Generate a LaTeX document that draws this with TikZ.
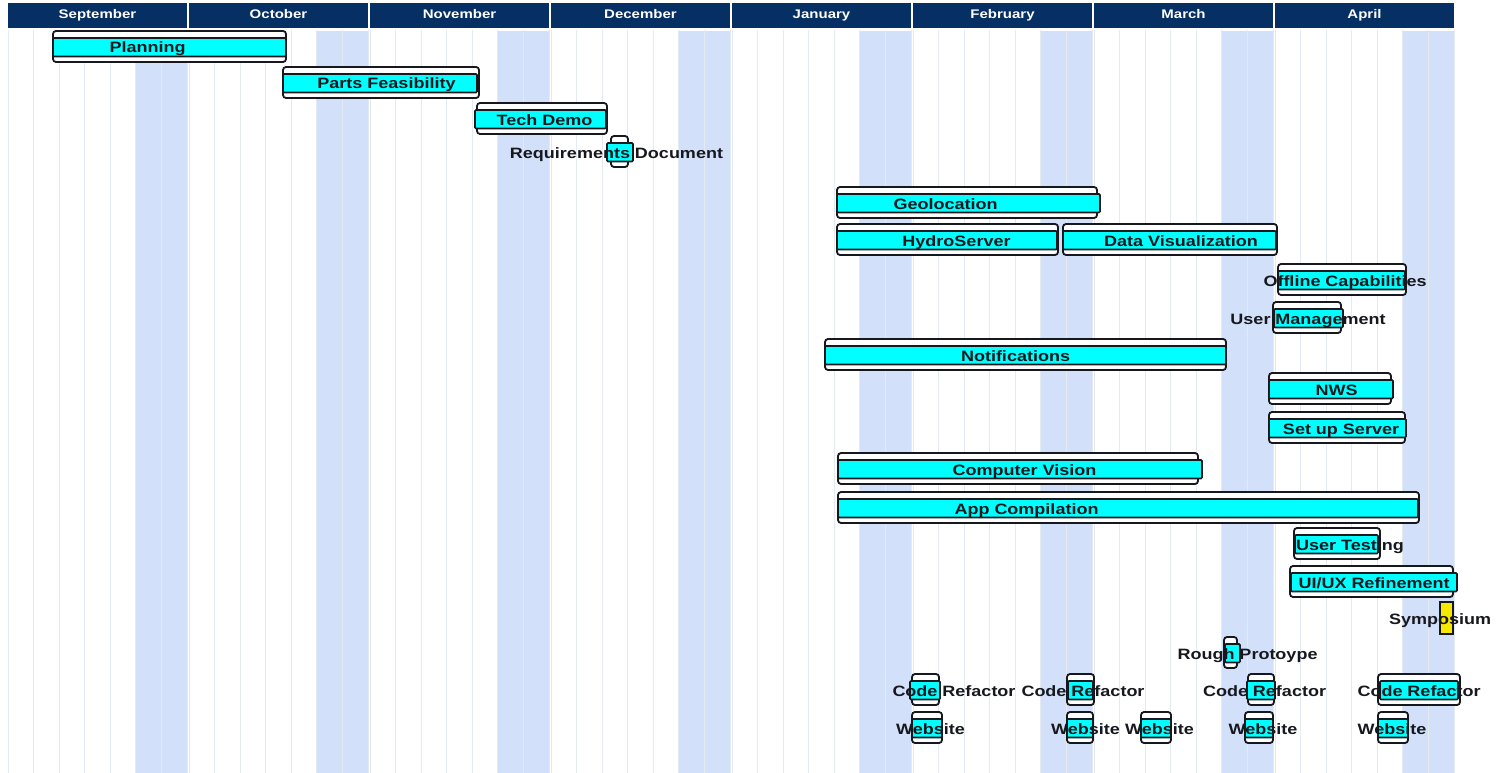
\documentclass[tikz,border=0pt]{standalone}
\usepackage{fontspec}
\usepackage{tikz}
\newfontfamily\chartfont[FakeStretch=1.2]{Liberation Sans}
\definecolor{navy}{RGB}{6,48,99}
\definecolor{wkndc}{RGB}{211,224,250}
\definecolor{gridc}{RGB}{228,234,242}
\definecolor{barc}{RGB}{0,255,255}
\definecolor{mile}{RGB}{246,232,0}
\definecolor{ink}{RGB}{22,24,30}
% one task: name, top, plan left/right, bar left/right, label x, label
\newcommand{\ganttrow}[8]{%
  \draw[planbox] (#3,#2) rectangle (#4,#2+31);
  \draw[actbar] (#5,#2+7) rectangle (#6,#2+25.5);
  \node[tasklbl] (#1) at (#7,#2+22) {#8};
}

\begin{document}
\begin{tikzpicture}[x=1pt,y=-1pt,
    planbox/.style={draw=ink,fill=white,line width=1.8pt,rounded corners=3pt},
    actbar/.style={draw=ink,fill=barc,line width=1.6pt,rounded corners=1pt},
    tasklbl/.style={inner sep=0pt,anchor=base,text=ink,
                    font=\chartfont\fontsize{15}{18}\selectfont\bfseries},
    monthlbl/.style={inner sep=0pt,anchor=base,text=white,
                     font=\chartfont\fontsize{12.5}{15}\selectfont\bfseries},
    gridln/.style={draw=gridc,line width=0.9pt},
  ]
  \fill[white] (0,0) rectangle (1506,773);
  \useasboundingbox (0,0) rectangle (1506,773);
  % months, weekend columns and grid
  \foreach \m [count=\i from 0] in {September,October,November,December,January,February,March,April} {
    \fill[navy] (8+181*\i,3) rectangle (187+181*\i,28);
    \node[monthlbl] (mon\i) at (97.5+181*\i,19) {\m};
    \fill[wkndc] (136+181*\i,31) rectangle (187+181*\i,773);
    \foreach \k in {0,...,7}
      \draw[gridln] (8+181*\i+25.57*\k,30) -- ++(0,743);
  }
  % tasks
  \ganttrow{plan}{31}{53}{286}{53}{286}{147.5}{Planning}
  \ganttrow{parts}{67}{283}{479}{283}{477}{386.5}{Parts Feasibility}
  \ganttrow{demo}{103}{477}{607}{475}{606}{544.5}{Tech Demo}
  \ganttrow{reqs}{136}{611}{628}{607}{633}{616.5}{Requirements Document}
  \ganttrow{geo}{187}{837}{1097}{837}{1100}{945.5}{Geolocation}
  \ganttrow{hydro}{224}{837}{1058}{837}{1057}{956.5}{HydroServer}
  \ganttrow{datavis}{224}{1063}{1277}{1063}{1276}{1181}{Data Visualization}
  \ganttrow{offline}{264}{1278}{1406}{1278}{1405}{1345}{Offline Capabilities}
  \ganttrow{usermgmt}{302}{1273}{1341}{1274}{1343}{1308}{User Management}
  \ganttrow{notif}{339}{825}{1226}{825}{1226}{1015.5}{Notifications}
  \ganttrow{nws}{373}{1269}{1391}{1269}{1393}{1336.5}{NWS}
  \ganttrow{setup}{412}{1269}{1405}{1269}{1406}{1341}{Set up Server}
  \ganttrow{vision}{453}{838}{1198}{838}{1202}{1024.5}{Computer Vision}
  \ganttrow{compile}{492}{838}{1419}{838}{1418}{1026.5}{App Compilation}
  \ganttrow{usertest}{528}{1294}{1380}{1295}{1378}{1350}{User Testing}
  \ganttrow{uiux}{566}{1290}{1453}{1291}{1457}{1374}{UI/UX Refinement}
  \draw[draw=ink,fill=mile,line width=1.6pt] (1440,602) rectangle (1453,634);
  \node[tasklbl] (symp) at (1440,624) {Symposium};
  \ganttrow{rough}{637}{1224}{1237}{1225}{1240}{1247.5}{Rough Protoype}
  \ganttrow{refacA}{674}{912}{939}{910}{940}{954}{Code Refactor}
  \ganttrow{refacB}{674}{1067}{1094}{1068}{1093}{1083}{Code Refactor}
  \ganttrow{refacC}{674}{1248}{1274}{1247}{1275}{1264.5}{Code Refactor}
  \ganttrow{refacD}{674}{1378}{1460}{1380}{1458}{1419}{Code Refactor}
  \ganttrow{webA}{712}{912}{942}{912}{942}{930.5}{Website}
  \ganttrow{webB}{712}{1067}{1093}{1067}{1093}{1085.5}{Website}
  \ganttrow{webC}{712}{1141}{1171}{1141}{1171}{1159.5}{Website}
  \ganttrow{webD}{712}{1245}{1273}{1245}{1273}{1263}{Website}
  \ganttrow{webE}{712}{1378}{1408}{1378}{1408}{1392}{Website}
\end{tikzpicture}
\end{document}
